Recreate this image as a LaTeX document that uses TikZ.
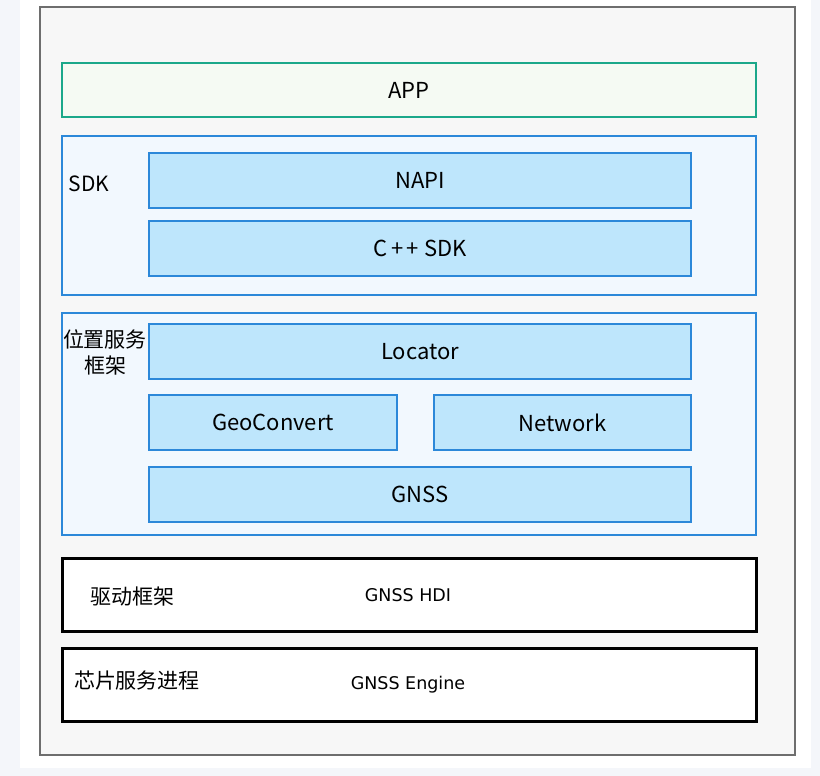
\documentclass[tikz,border=0pt]{standalone}
\usepackage{fontspec}
\setmainfont{Noto Sans CJK SC}
\newfontfamily\smallfont{DejaVu Sans}
\definecolor{pagebg}{HTML}{F4F6FA}
\definecolor{cardbg}{HTML}{FFFFFF}
\definecolor{framebg}{HTML}{F7F7F7}
\definecolor{framedraw}{HTML}{6E6E6E}
\definecolor{appdraw}{HTML}{1BA88A}
\definecolor{appfill}{HTML}{F5FAF3}
\definecolor{layerdraw}{HTML}{2C88D9}
\definecolor{layerfill}{HTML}{F2F8FE}
\definecolor{modfill}{HTML}{BEE6FC}
\tikzset{
  layer/.style={draw=layerdraw, fill=layerfill, line width=2pt, minimum width=694pt, inner sep=0pt},
  module/.style={draw=layerdraw, fill=modfill, line width=2pt, minimum height=55pt, inner sep=0pt, font=\fontsize{22}{26}\selectfont},
  blackbox/.style={draw=black, fill=white, line width=3pt, minimum width=694pt, minimum height=73pt, inner sep=0pt},
  lbl/.style={inner sep=0pt, font=\fontsize{21}{25}\selectfont, align=center},
  sml/.style={inner sep=0pt, font=\smallfont\fontsize{17.5}{20}\selectfont},
}
\begin{document}
\begin{tikzpicture}[x=1pt,y=-1pt]
\useasboundingbox (0,0) rectangle (820,776);
\fill[pagebg] (0,0) rectangle (820,776);
\fill[cardbg] (20,0) rectangle (811,768);
\draw[framedraw, fill=framebg, line width=2pt] (40,7) rectangle (795,755);
% APP
\node[draw=appdraw, fill=appfill, line width=2.5pt, minimum width=694pt, minimum height=54pt, inner sep=0pt, font=\fontsize{22}{26}\selectfont] (app) at (409,90) {APP};
% SDK layer
\node[layer, minimum height=159pt] (sdk) at (409,215.5) {};
\node[lbl] (sdklbl) at (89,184) {SDK};
\node[module, minimum width=542pt] (napi) at (420,180.5) {NAPI};
\node[module, minimum width=542pt] (cpp) at (420,248.5) {C\,+\,+ SDK};
% Location framework
\node[layer, minimum height=222pt] (loc) at (409,424) {};
\node[lbl, font=\fontsize{21}{26}\selectfont] (loclbl) at (105,352) {位置服务\\框架};
\node[module, minimum width=542pt] (locator) at (420,351.5) {Locator};
\node[module, minimum width=248pt] (geo) at (273,422.5) {GeoConvert};
\node[module, minimum width=257pt] (net) at (562.5,422.5) {Network};
\node[module, minimum width=542pt] (gnss) at (420,494.5) {GNSS};
% Driver framework
\node[blackbox] (drv) at (409,595) {};
\node[lbl] (drvlbl) at (132,597) {驱动框架};
\node[sml] (hdi) at (408,595) {GNSS HDI};
% Chip service
\node[blackbox] (chip) at (409,684.5) {};
\node[lbl] (chiplbl) at (137,681) {芯片服务进程};
\node[sml] (engine) at (408,685) {GNSS Engine};
\end{tikzpicture}
\end{document}
